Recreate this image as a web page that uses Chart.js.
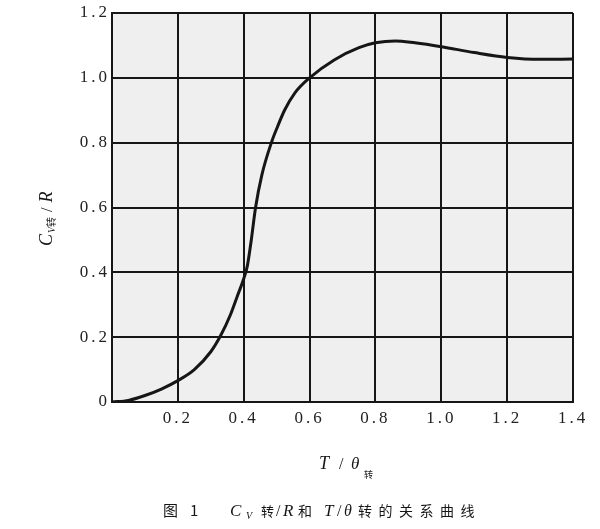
<!DOCTYPE html>
<html>
<head>
<meta charset="utf-8">
<script src="https://cdn.jsdelivr.net/npm/chart.js@4/dist/chart.umd.min.js"></script>
<style>
  html, body { margin: 0; padding: 0; background: #fff; }
  #wrap { width: 600px; height: 529px; }
</style>
</head>
<body>
<div id="wrap"><canvas id="c" width="600" height="529"></canvas></div>
<script>
// T/θ转 (x) and Cv转/R (y)
const tRatio = [0, 0.05, 0.1, 0.15, 0.2, 0.25, 0.3, 0.33, 0.36, 0.38, 0.4, 0.411, 0.423, 0.436, 0.455, 0.484,
  0.503, 0.524, 0.555, 0.6, 0.676, 0.75, 0.8, 0.86, 0.92, 1.0, 1.1, 1.2, 1.3, 1.4];
const cvR = [0, 0.005, 0.02, 0.04, 0.066, 0.1, 0.155, 0.205, 0.27, 0.325, 0.38, 0.42, 0.5, 0.6, 0.7, 0.8,
  0.85, 0.9, 0.953, 1.0, 1.056, 1.093, 1.108, 1.114, 1.108, 1.096, 1.078, 1.063, 1.057, 1.058];

const xTickValues = [0, 0.2, 0.4, 0.6, 0.8, 1.0, 1.2, 1.4];
const xTickLabels = ['', '0.2', '0.4', '0.6', '0.8', '1.0', '1.2', '1.4'];
const yTickValues = [0, 0.2, 0.4, 0.6, 0.8, 1.0, 1.2];
const yTickLabels = ['0', '0.2', '0.4', '0.6', '0.8', '1.0', '1.2'];

const ink = '#161616';
const serif = '"Liberation Serif", "DejaVu Serif", serif';
const cjk = '"Noto Sans CJK SC", sans-serif';

// draws text pieces, each with its own font, x position (or following on) and vertical shift
function drawRuns(ctx, runs, x, y) {
  let cx = x;
  runs.forEach(r => {
    if (r.x !== undefined) cx = r.x;
    ctx.font = r.font;
    ctx.letterSpacing = (r.ls || 0) + 'px';
    ctx.fillText(r.text, cx, y + (r.dy || 0));
    cx += ctx.measureText(r.text).width + (r.gap || 0);
  });
}

const paperAndTitles = {
  id: 'paperAndTitles',
  // wide old-style tick digits; canvas resets state on resize, so set it each pass
  beforeLayout(chart) { chart.ctx.letterSpacing = '3px'; },
  beforeDraw(chart) {
    const { ctx, chartArea: a } = chart;
    ctx.letterSpacing = '3px';
    ctx.save();
    ctx.fillStyle = '#efefef';
    ctx.fillRect(a.left, a.top, a.right - a.left, a.bottom - a.top);
    ctx.restore();
  },
  afterDraw(chart) {
    const ctx = chart.ctx;
    ctx.save();
    ctx.fillStyle = ink;
    ctx.textBaseline = 'alphabetic';

    // x axis title
    drawRuns(ctx, [
      { text: 'T', font: 'italic 18px ' + serif, x: 319 },
      { text: '/', font: '16px ' + serif, x: 339 },
      { text: 'θ', font: 'italic 17px ' + serif, x: 351 },
      { text: '转', font: '9px ' + cjk, x: 364, dy: 9 }
    ], 0, 469);

    // y axis title (rotated)
    ctx.save();
    ctx.translate(52, 215);
    ctx.rotate(-Math.PI / 2);
    drawRuns(ctx, [
      { text: 'C', font: 'italic 18px ' + serif, gap: 1 },
      { text: 'V', font: 'italic 10px ' + serif, dy: 3 },
      { text: '转', font: '10px ' + cjk, dy: 3, gap: 5 },
      { text: '/', font: '16px ' + serif, gap: 5 },
      { text: 'R', font: 'italic 18px ' + serif }
    ], -31, 0);
    ctx.restore();

    // caption
    drawRuns(ctx, [
      { text: '图', font: '15px ' + cjk, x: 163 },
      { text: '1', font: '15px ' + cjk, x: 190 },
      { text: 'C', font: 'italic 17px ' + serif, x: 230 },
      { text: 'V', font: 'italic 10px ' + serif, x: 246, dy: 3 },
      { text: '转', font: '13px ' + cjk, x: 261 },
      { text: '/', font: '16px ' + serif, x: 276 },
      { text: 'R', font: 'italic 17px ' + serif, x: 283 },
      { text: '和', font: '14px ' + cjk, x: 298 },
      { text: 'T', font: 'italic 17px ' + serif, x: 324 },
      { text: '/', font: '16px ' + serif, x: 337 },
      { text: 'θ', font: 'italic 16px ' + serif, x: 344 },
      { text: '转的关系曲线', font: '14px ' + cjk, x: 358, ls: 6.5 }
    ], 0, 516);
    ctx.restore();
  }
};

const points = tRatio.map((t, i) => ({ x: t, y: cvR[i] }));

new Chart(document.getElementById('c'), {
  type: 'line',
  data: {
    datasets: [{
      data: points,
      borderColor: ink,
      borderWidth: 3,
      borderJoinStyle: 'round',
      borderCapStyle: 'round',
      pointRadius: 0,
      fill: false,
      cubicInterpolationMode: 'monotone'
    }]
  },
  options: {
    responsive: false,
    animation: false,
    layout: { padding: { left: 0, top: 13, right: 27, bottom: 97 } },
    plugins: { legend: { display: false }, tooltip: { enabled: false } },
    scales: {
      x: {
        type: 'linear',
        min: 0,
        max: 1.4,
        afterBuildTicks: s => { s.ticks = xTickValues.map(v => ({ value: v })); },
        afterFit: s => { s.height = 30; },
        grid: { color: ink, lineWidth: 2, drawTicks: false },
        border: { display: true, color: ink, width: 2 },
        ticks: {
          padding: 6,
          color: '#222',
          font: { family: serif, size: 17 },
          maxRotation: 0,
          autoSkip: false,
          callback: (v, i) => xTickLabels[i]
        }
      },
      y: {
        min: 0,
        max: 1.2,
        afterBuildTicks: s => { s.ticks = yTickValues.map(v => ({ value: v })); },
        afterFit: s => { s.width = 112; },
        grid: { color: ink, lineWidth: 2, drawTicks: false },
        border: { display: true, color: ink, width: 2 },
        ticks: {
          padding: 2,
          color: '#222',
          font: { family: serif, size: 17 },
          autoSkip: false,
          callback: (v, i) => yTickLabels[i]
        }
      }
    }
  },
  plugins: [paperAndTitles]
});
</script>
</body>
</html>
